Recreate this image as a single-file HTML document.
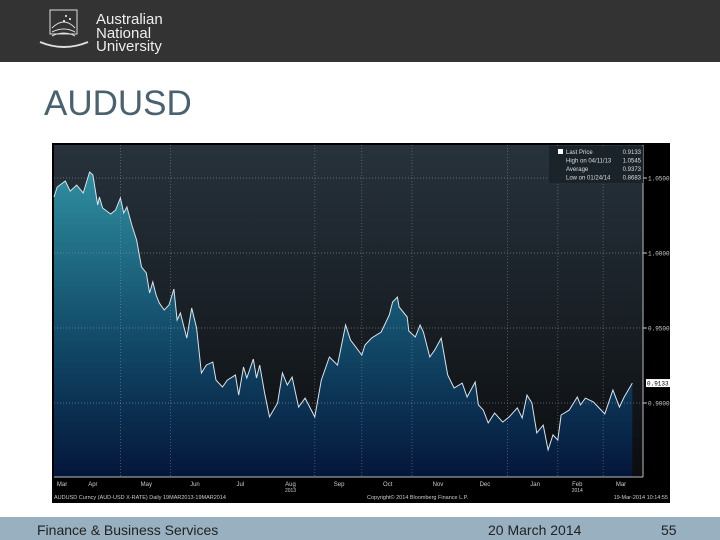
<!DOCTYPE html>
<html><head><meta charset="utf-8"><style>
body{margin:0;width:720px;height:540px;overflow:hidden;background:#fff;font-family:"Liberation Sans",sans-serif;position:relative}
.hdr{position:absolute;left:0;top:0;width:720px;height:62px;background:#333}
.title{position:absolute;left:44px;top:84px;font-size:35px;color:#4a6270}
.foot{position:absolute;left:0;top:517px;width:720px;height:23px;background:#98b0c0}
.ft{position:absolute;top:522px;font-size:14px;color:#222}
</style></head><body>
<div class="hdr">
<svg width="200" height="62">
<rect x="50" y="10" width="27" height="24" fill="none" stroke="#ddd" stroke-width="1"/>
<path d="M52 28 q12 -12 23 0 M52 32 q12 -6 23 0 M52 36 q12 -6 23 0" stroke="#ddd" fill="none"/>
<path d="M40 42 q24 10 48 0" stroke="#ddd" fill="none" stroke-width="2"/>
<circle cx="66" cy="16" r="1" fill="#fff"/><circle cx="70" cy="19" r="1" fill="#fff"/><circle cx="64" cy="21" r="1" fill="#fff"/>
<text x="96" y="24" fill="#eee" font-size="15" font-family="Liberation Sans">Australian</text>
<text x="96" y="38" fill="#eee" font-size="15" font-family="Liberation Sans">National</text>
<text x="96" y="51" fill="#eee" font-size="15" font-family="Liberation Sans">University</text>
</svg></div>
<div class="title">AUDUSD</div>
<svg id="chart" style="position:absolute;left:0;top:0" width="720" height="540"></svg>
<div class="foot"></div>
<div class="ft" style="left:37px">Finance &amp; Business Services</div>
<div class="ft" style="left:488px">20 March 2014</div>
<div class="ft" style="left:661px">55</div>
<script>
const days=[0,2,7,10,14,18,22,24,27,28,30,35,38,41,43,45,48,51,54,57,59,61,63,65,68,71,74,76,78,82,85,88,91,94,98,100,104,107,110,112,114,117,119,123,125,127,130,133,138,141,144,147,151,155,161,165,170,175,180,183,190,192,196,202,207,209,212,213,218,219,223,226,228,232,235,239,243,247,252,255,260,262,265,268,272,277,281,286,289,292,295,298,302,305,308,311,313,318,323,325,328,333,336,340,345,349,352,357];
const prices=[1.0373,1.0440,1.0480,1.0413,1.0453,1.0400,1.0540,1.0520,1.0320,1.0373,1.0300,1.0260,1.0287,1.0367,1.0267,1.0307,1.0187,1.0087,0.9907,0.9867,0.9733,0.9807,0.9720,0.9667,0.9620,0.9653,0.9760,0.9553,0.9600,0.9433,0.9633,0.9500,0.9200,0.9253,0.9273,0.9153,0.9107,0.9153,0.9173,0.9187,0.9053,0.9240,0.9167,0.9293,0.9167,0.9253,0.9067,0.8907,0.9000,0.9200,0.9120,0.9173,0.8973,0.9033,0.8907,0.9153,0.9307,0.9253,0.9520,0.9420,0.9320,0.9387,0.9433,0.9473,0.9587,0.9673,0.9707,0.9640,0.9573,0.9480,0.9440,0.9520,0.9473,0.9307,0.9353,0.9433,0.9187,0.9100,0.9133,0.9040,0.9140,0.8987,0.8953,0.8867,0.8933,0.8873,0.8907,0.8967,0.8900,0.9053,0.9000,0.8800,0.8853,0.8687,0.8787,0.8753,0.8920,0.8953,0.9040,0.8987,0.9033,0.9007,0.8973,0.8927,0.9087,0.8973,0.9040,0.9133];
const yTicks=[1.05,1.00,0.95,0.90];
const yTickLabels=["1.0500","1.0000","0.9500","0.9000"];
const months=["Mar","Apr","May","Jun","Jul","Aug","Sep","Oct","Nov","Dec","Jan","Feb","Mar"];
const monthDays=[5,24,57,87,115,146,176,206,237,266,297,323,350];
const gridDays=[41,72,161,190,221,280,311,339];
const lastPrice=0.9133;
const L=54,R=643,T=145,B=477;
const x=d=>L+d*1.62;
const y=v=>403-(v-0.90)*1500;
const svg=document.getElementById('chart');
const NS='http://www.w3.org/2000/svg';
function mk(t,a,p){const e=document.createElementNS(NS,t);for(const k in a)e.setAttribute(k,a[k]);(p||svg).appendChild(e);return e;}
const defs=mk('defs',{});
defs.innerHTML='<linearGradient id="bg" x1="0" y1="0" x2="0" y2="1"><stop offset="0" stop-color="#27323c"/><stop offset="1" stop-color="#0b0d0f"/></linearGradient><linearGradient id="fill" gradientUnits="userSpaceOnUse" x1="0" y1="170" x2="0" y2="477"><stop offset="0" stop-color="#2f8fa0"/><stop offset="0.5" stop-color="#14506e"/><stop offset="1" stop-color="#04163a"/></linearGradient>';
let e;
e=mk('rect',{x:52,y:143,width:618,height:360,fill:'#000'});


e=mk('rect',{x:L,y:T,width:R-L,height:B-T,fill:'url(#bg)'});


let d='M'+x(days[0])+','+B;
days.forEach((dd,i)=>{d+=' L'+x(dd).toFixed(1)+','+y(prices[i]).toFixed(1);});
d+=' L'+x(days[days.length-1]).toFixed(1)+','+B+' Z';
e=mk('path',{d:d,fill:'url(#fill)'});


yTicks.forEach((v,i)=>{
 e=mk('line',{x1:L,x2:R,y1:y(v),y2:y(v),stroke:'#9aa',"stroke-width":0.7,"stroke-dasharray":'1,2',opacity:0.7});
 
 
 mk('line',{x1:R,x2:R+4,y1:y(v),y2:y(v),stroke:'#ccc'});
 e=mk('text',{x:R+5,y:y(v)+2.5,fill:'#ccc',"font-size":6,"font-family":'Liberation Mono'});e.textContent=yTickLabels[i];
 
 
});
gridDays.forEach(g=>{
 e=mk('line',{x1:x(g),x2:x(g),y1:T,y2:B,stroke:'#9aa',"stroke-width":0.7,"stroke-dasharray":'1,2',opacity:0.6});
 
 
});
let pl='';days.forEach((dd,i)=>{pl+=(i?' ':'')+x(dd).toFixed(1)+','+y(prices[i]).toFixed(1);});
e=mk('polyline',{points:pl,fill:'none',stroke:'#d8e4ec',"stroke-width":1});


mk('line',{x1:L,x2:R,y1:B,y2:B,stroke:'#bbb'});
mk('line',{x1:R,x2:R,y1:T,y2:B,stroke:'#bbb'});
e=mk('rect',{x:R+3,y:y(lastPrice)-4,width:24,height:8,fill:'#fff'});


e=mk('text',{x:R+4,y:y(lastPrice)+2.5,fill:'#000',"font-size":6,"font-family":'Liberation Mono'});e.textContent=lastPrice.toFixed(4);
months.forEach((m,i)=>{
 e=mk('text',{x:x(monthDays[i]),y:486,fill:'#ccc',"font-size":6,"text-anchor":'middle'});e.textContent=m;
 
 
});
e=mk('text',{x:x(146),y:492,fill:'#ccc',"font-size":5,"text-anchor":'middle'});e.textContent='2013';
e=mk('text',{x:x(323),y:492,fill:'#ccc',"font-size":5,"text-anchor":'middle'});e.textContent='2014';
e=mk('text',{x:54,y:499,fill:'#ccc',"font-size":5.5});e.textContent='AUDUSD Curncy (AUD-USD X-RATE)  Daily 19MAR2013-19MAR2014';


e=mk('text',{x:367,y:499,fill:'#ccc',"font-size":5.5});e.textContent='Copyright© 2014 Bloomberg Finance L.P.';
e=mk('text',{x:668,y:499,fill:'#ccc',"font-size":5.5,"text-anchor":'end'});e.textContent='19-Mar-2014 10:14:55';
// legend
const lg=mk('g',{});


mk('rect',{x:549,y:146,width:94,height:37,fill:'#1a2228',opacity:0.9},lg);
mk('rect',{x:558,y:149,width:5,height:5,fill:'#fff'},lg);
const lgLab=['Last Price','High on 04/11/13','Average','Low on 01/24/14'];
const lgVal=['0.9133','1.0545','0.9373','0.8683'];
lgLab.forEach((t,i)=>{
 e=mk('text',{x:566,y:154+i*8.5,fill:'#ddd',"font-size":6},lg);e.textContent=t;
 
 
 e=mk('text',{x:641,y:154+i*8.5,fill:'#ddd',"font-size":6,"text-anchor":'end'},lg);e.textContent=lgVal[i];
});
</script>
</body></html>
